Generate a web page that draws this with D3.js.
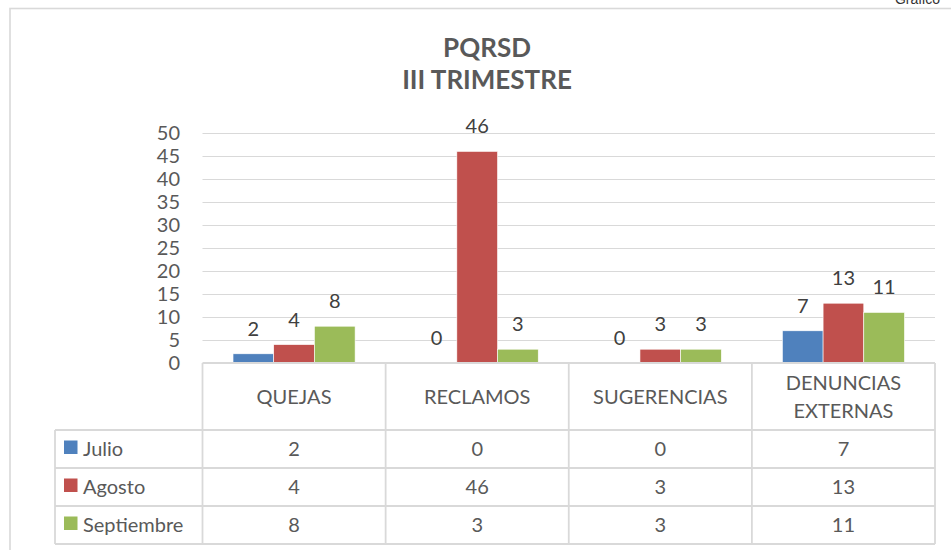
<!DOCTYPE html>
<html>
<head>
<meta charset="utf-8">
<script src="https://cdn.jsdelivr.net/npm/d3@7"></script>
<style>
body{margin:0;background:#fff;overflow:hidden;}
text{font-family:Lato, "Noto Sans", sans-serif;}
</style>
</head>
<body>
<div class="chart"></div>
<script>
// datos del gráfico
const categories = ['QUEJAS', 'RECLAMOS', 'SUGERENCIAS', 'DENUNCIAS EXTERNAS'];
const series = ['Julio', 'Agosto', 'Septiembre'];
const julio = [2, 0, 0, 7];
const agosto = [4, 46, 3, 13];
const septiembre = [8, 3, 3, 11];
const yTicks = [0, 5, 10, 15, 20, 25, 30, 35, 40, 45, 50];
const colors = ['#4F81BD', '#C0504D', '#9BBB59'];
const titleLines = ['PQRSD', 'III TRIMESTRE'];

const values = [julio, agosto, septiembre];

// armar filas: una por categoria y serie
const barData = [];
categories.forEach((c, i) => {
    series.forEach((s, j) => {
        barData.push({cat: c, serie: s, value: values[j][i], color: colors[j]});
    });
});

const svg_width = 951;
const svg_height = 550;
const plot = {left: 202.5, right: 935, top: 133, bottom: 363};
const headerH = 67;
const rowH = 38;
const legendLeft = 55;
const gridColor = '#d9d9d9';
const textColor = '#595959';

const svg = d3.select('.chart').append('svg')
    .attr('width', svg_width).attr('height', svg_height);

// marco exterior
svg.append('rect')
    .attr('x', 10).attr('y', 8.5)
    .attr('width', 1000).attr('height', 1000)
    .attr('fill', 'none').attr('stroke', gridColor).attr('stroke-width', 1.6);

// texto cortado arriba a la derecha
svg.append('text').text('Gráfico')
    .attr('x', 940).attr('y', 4)
    .attr('text-anchor', 'end')
    .style('font-family', 'Liberation Sans, Arial, sans-serif')
    .style('font-size', '14px').style('fill', '#333');

// escalas
const xScale = d3.scaleBand().domain(categories)
    .range([plot.left, plot.right]).paddingInner(1 / 3).paddingOuter(1 / 6);
const xSub = d3.scaleBand().domain(series).range([0, xScale.bandwidth()]);
const yScale = d3.scaleLinear().domain([0, 50]).range([plot.bottom, plot.top]);
const step = xScale.step();
const colLeft = c => xScale(c) - (step - xScale.bandwidth()) / 2;

// lineas de la grilla
const grid = svg.append('g').attr('class', 'grid')
    .attr('transform', `translate(${plot.left},0)`)
    .call(d3.axisRight(yScale).tickValues(yTicks.filter(d => d > 0))
        .tickSize(plot.right - plot.left).tickFormat(''));
grid.select('.domain').remove();
grid.selectAll('line').attr('stroke', gridColor).attr('stroke-width', 1.2);

// eje y (solo etiquetas)
const yAxis = svg.append('g').attr('class', 'y axis')
    .attr('transform', `translate(${plot.left},0)`)
    .call(d3.axisLeft(yScale).tickValues(yTicks).tickSize(0).tickPadding(22.5));
yAxis.select('.domain').remove();
yAxis.selectAll('text')
    .style('font-family', 'Lato, sans-serif')
    .style('font-size', '20px').style('fill', textColor);

// barras
svg.append('g').selectAll('rect')
    .data(barData).join('rect')
    .attr('x', d => xScale(d.cat) + xSub(d.serie))
    .attr('y', d => yScale(d.value))
    .attr('width', xSub.bandwidth())
    .attr('height', d => yScale(0) - yScale(d.value))
    .attr('fill', d => d.color)
    .attr('stroke', '#fff').attr('stroke-width', 0.6);

// etiquetas de valores
svg.append('g').selectAll('text')
    .data(barData).join('text')
    .attr('x', d => xScale(d.cat) + xSub(d.serie) + xSub.bandwidth() / 2)
    .attr('y', d => yScale(d.value) - 18)
    .attr('text-anchor', 'middle')
    .style('font-size', '20px').style('fill', '#404040')
    .text(d => d.value);

// titulo
const title = svg.append('text')
    .attr('text-anchor', 'middle')
    .style('font-size', '26px').style('font-weight', 'bold').style('fill', textColor);
titleLines.forEach((t, i) => {
    title.append('tspan').attr('x', 487).attr('y', 57 + i * 32).text(t);
});

// tabla de datos
const table = svg.append('g').attr('class', 'table');
const tableTop = plot.bottom;
const rowsTop = tableTop + headerH;
const tableBottom = rowsTop + rowH * series.length;

const hLine = (x1, x2, y) => table.append('line')
    .attr('x1', x1).attr('x2', x2).attr('y1', y).attr('y2', y)
    .attr('stroke', gridColor).attr('stroke-width', 1.8);
const vLine = (x, y1, y2) => table.append('line')
    .attr('x1', x).attr('x2', x).attr('y1', y1).attr('y2', y2)
    .attr('stroke', gridColor).attr('stroke-width', 1.8);

hLine(plot.left, plot.right, tableTop);
series.forEach((s, j) => hLine(legendLeft, plot.right, rowsTop + rowH * j));
hLine(legendLeft, plot.right, tableBottom);
vLine(legendLeft, rowsTop, tableBottom);
categories.forEach(c => vLine(colLeft(c), tableTop, tableBottom));
vLine(plot.right, tableTop, tableBottom);

// encabezados de categorias (se parten si no caben)
categories.forEach(c => {
    const cx = colLeft(c) + step / 2;
    const words = c.split(' ');
    const t = table.append('text').attr('text-anchor', 'middle')
        .style('font-size', '20px').style('fill', textColor).text(c);
    let lines = [c];
    if (t.node().getComputedTextLength() > step - 20 && words.length > 1) lines = words;
    t.text(null);
    const midY = tableTop + headerH / 2;
    lines.forEach((l, k) => {
        t.append('tspan').attr('x', cx)
            .attr('y', midY + (k - (lines.length - 1) / 2) * 28)
            .attr('dy', '0.35em').text(l);
    });
});

// filas con leyenda y valores
series.forEach((s, j) => {
    const cy = rowsTop + rowH * j + rowH / 2;
    table.append('rect')
        .attr('x', 64).attr('y', cy - 8.5)
        .attr('width', 13.5).attr('height', 13.5)
        .attr('fill', colors[j]);
    table.append('text').attr('x', 83).attr('y', cy).attr('dy', '0.35em')
        .style('font-size', '20px').style('fill', textColor).text(s);
    categories.forEach((c, i) => {
        table.append('text')
            .attr('x', colLeft(c) + step / 2).attr('y', cy).attr('dy', '0.35em')
            .attr('text-anchor', 'middle')
            .style('font-size', '20px').style('fill', textColor)
            .text(values[j][i]);
    });
});
</script>
</body>
</html>
